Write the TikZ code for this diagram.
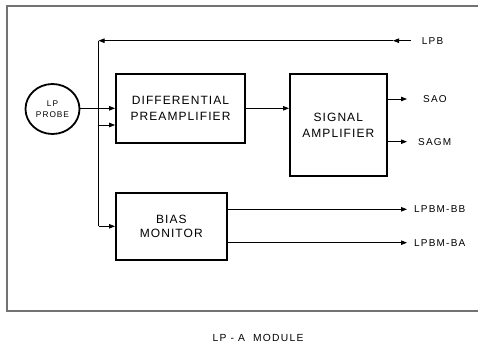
\documentclass[tikz,border=0pt]{standalone}
\usepackage{fontspec}
\setmainfont{Liberation Sans}
\newfontfamily\boxfont[LetterSpace=9]{Liberation Sans}
\newfontfamily\labfont[LetterSpace=12]{Liberation Sans}
\usetikzlibrary{arrows.meta,shapes.geometric}
\begin{document}
\begin{tikzpicture}[x=1pt,y=-1pt,
  blk/.style={draw,line width=1.8pt,rectangle,inner sep=0pt,align=center,
    font=\boxfont\fontsize{12}{16}\selectfont},
  lab/.style={inner sep=0pt,anchor=west,font=\labfont\fontsize{10}{12}\selectfont},
  conn/.style={line width=0.8pt},
  arr/.style={conn,-{Triangle[length=6pt,width=4.5pt]}}]
\useasboundingbox (0,0) rectangle (478,345);
\draw[line width=1.3pt,black!55] (7,6) rectangle (485,311);
\node[draw,ellipse,line width=1.8pt,minimum width=54pt,minimum height=50pt,inner sep=0pt,align=center,
  font=\labfont\fontsize{8.3}{10.5}\selectfont] (probe) at (52.5,109) {LP\\PROBE};
\node[blk,minimum width=129pt,minimum height=68.7pt] (diff) at (180.5,108.3) {DIFFERENTIAL\\PREAMPLIFIER};
\node[blk,minimum width=96.7pt,minimum height=102pt] (sig) at (338.3,125) {SIGNAL\\AMPLIFIER};
\node[blk,minimum width=110.7pt,minimum height=67.3pt,font=\boxfont\fontsize{12}{14.5}\selectfont] (bias) at (171.3,226.3) {BIAS\\MONITOR};
\node[lab] (lpb) at (421.7,40.7) {LPB};
\node[lab] (sao) at (423,99) {SAO};
\node[lab] (sagm) at (418,141.7) {SAGM};
\node[lab] (bb) at (414,209.3) {LPBM-BB};
\node[lab] (ba) at (414,242.7) {LPBM-BA};
\node[inner sep=0pt,font=\labfont\fontsize{10.3}{12}\selectfont] (cap) at (258,338) {LP - A\ \ MODULE};
\coordinate (lpbstart) at ([xshift=-11pt]lpb.west);
\coordinate (lpbmid) at (393,40.7);
\coordinate (corner) at (98.5,40.7);
\coordinate (vbot) at (98.5,226.3);
\coordinate (vlow) at (98.5,125);
% connectors
\draw[arr] (lpbstart) -- (lpbmid);
\draw[arr] (lpbmid) -- (corner);
\draw[conn] (corner) -- (vbot);
\draw[arr] (vbot) -- (bias.west);
\draw[arr] (vlow) -- (diff.west |- vlow);
\draw[arr] (probe.east |- diff.west) -- (diff.west);
\draw[arr] (diff.east) -- (sig.west |- diff.east);
\draw[arr] (sig.east |- sao.west) -- ([xshift=-16pt]sao.west);
\draw[arr] (sig.east |- sagm.west) -- ([xshift=-11pt]sagm.west);
\draw[arr] (bias.east |- bb.west) -- ([xshift=-7pt]bb.west);
\draw[arr] (bias.east |- ba.west) -- ([xshift=-7pt]ba.west);
\end{tikzpicture}
\end{document}
